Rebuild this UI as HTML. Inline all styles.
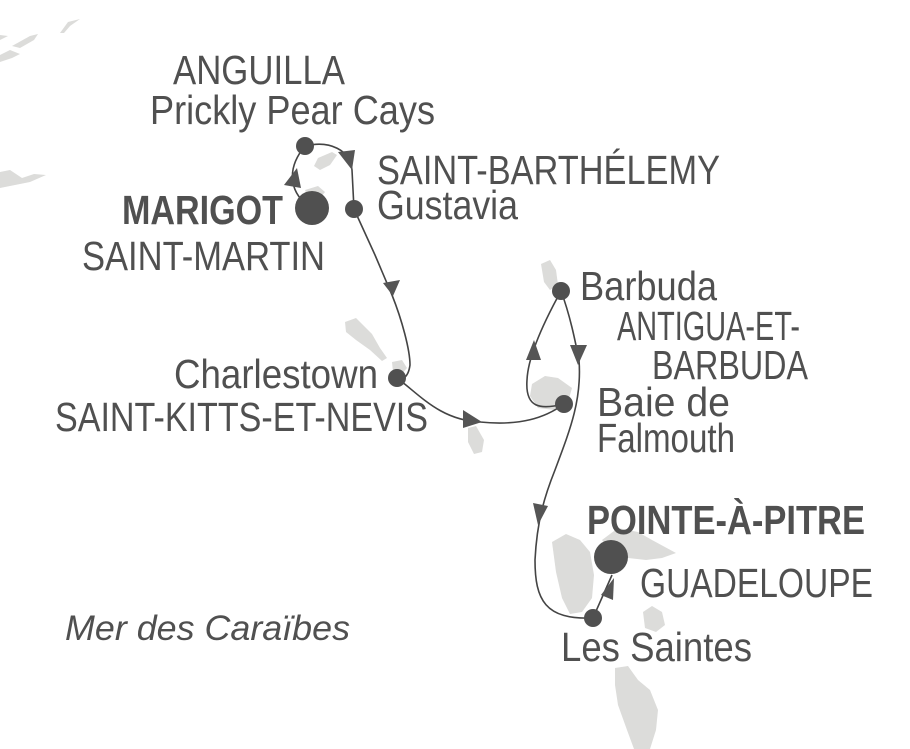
<!DOCTYPE html>
<html><head><meta charset="utf-8"><style>
html,body{margin:0;padding:0;background:#fff;}
svg{display:block;}
text{font-family:"Liberation Sans",sans-serif;fill:#505050;font-size:41px;}
.b{font-weight:bold;}
.i{font-style:italic;font-size:35px;}
</style></head><body>
<svg width="910" height="749" viewBox="0 0 910 749" xmlns="http://www.w3.org/2000/svg">
<g fill="#dcdcda">
<path d="M0 35 L8 36 L0 40Z"/>
<path d="M12 46 L30 36 L38 34 L34 40 L20 48Z"/>
<path d="M0 55 L10 50 L20 54 L12 58 L0 62Z"/>
<path d="M60 33 L68 22 L80 19 L70 26 L64 33Z"/>
<path d="M0 172 L10 170 L22 178 L34 174 L46 175 L30 182 L10 186 L0 188Z"/>
<path d="M318 158 L332 152 L337 155 L330 165 L320 170 L314 166Z"/>
<path d="M305 190 L318 186 L325 192 L320 198 L308 197Z"/>
<path d="M345 322 L356 318 L372 334 L380 348 L387 358 L382 361 L370 350 L356 340 L346 332Z"/>
<path d="M392 362 L402 360 L407 368 L400 376 L393 372Z"/>
<path d="M541 264 L550 260 L556 270 L558 285 L550 290 L544 282 Z"/>
<path d="M532 384 L545 376 L558 378 L572 388 L568 402 L555 410 L538 408 L530 396Z"/>
<path d="M468 428 L476 426 L484 440 L482 452 L474 454 L468 442Z"/>
<path d="M552 542 L566 534 L580 540 L590 552 L594 575 L592 598 L582 612 L570 614 L562 598 L556 572Z"/>
<path d="M602 540 L618 528 L638 532 L652 540 L676 553 L662 558 L646 560 L628 558 L612 555 Z"/>
<path d="M643 612 L652 606 L662 612 L665 625 L656 632 L645 628Z"/>
<path d="M615 668 L628 666 L638 680 L650 690 L658 710 L656 730 L650 749 L634 749 L627 730 L618 705 L615 685Z"/>
</g>
<g fill="none" stroke="#444" stroke-width="1.6">
<path d="M312 208 C290 195 285 170 305 146 C330 140 350 150 352 170 L354 209 L375 255 L392 295 C402 320 410 350 410 365 C408 380 400 380 397 378 C420 395 440 420 480 422 C520 426 545 418 564 404 C540 410 525 408 527 380 C528 355 545 320 561 291 C570 315 575 340 579 360 C582 400 570 430 555 470 C545 495 537 520 535 560 C535 600 545 620 593 618 L612 575"/>
</g>
<g fill="#555">
<path d="M284 185 L297 168 L301 188Z"/>
<path d="M338 152 L355 150 L352 170Z"/>
<path d="M383 283 L400 280 L393 296Z"/>
<path d="M463 410 L482 422 L463 428Z"/>
<path d="M526 360 L534 340 L541 360Z"/>
<path d="M570 345 L587 345 L578 365Z"/>
<path d="M533 503 L548 506 L538 525Z"/>
<path d="M601 595 L614 578 L613 600Z"/>
</g>
<g fill="#505050">
<circle cx="312" cy="208" r="17"/>
<circle cx="611" cy="557" r="17"/>
<circle cx="305" cy="146" r="9"/>
<circle cx="354" cy="209" r="9"/>
<circle cx="397" cy="378" r="9"/>
<circle cx="561" cy="291" r="9"/>
<circle cx="564" cy="404" r="9"/>
<circle cx="593" cy="618" r="9"/>
</g>
<text x="173" y="84" textLength="172" lengthAdjust="spacingAndGlyphs">ANGUILLA</text>
<text x="150" y="124" textLength="285" lengthAdjust="spacingAndGlyphs">Prickly Pear Cays</text>
<text class="b" x="122" y="224" textLength="161" lengthAdjust="spacingAndGlyphs">MARIGOT</text>
<text x="82" y="270" textLength="243" lengthAdjust="spacingAndGlyphs">SAINT-MARTIN</text>
<text x="377" y="184" textLength="343" lengthAdjust="spacingAndGlyphs">SAINT-BARTHÉLEMY</text>
<text x="377" y="219" textLength="141" lengthAdjust="spacingAndGlyphs">Gustavia</text>
<text x="174" y="388" textLength="204" lengthAdjust="spacingAndGlyphs">Charlestown</text>
<text x="55" y="431" textLength="373" lengthAdjust="spacingAndGlyphs">SAINT-KITTS-ET-NEVIS</text>
<text x="580" y="300" textLength="137" lengthAdjust="spacingAndGlyphs">Barbuda</text>
<text x="617" y="340" textLength="183" lengthAdjust="spacingAndGlyphs">ANTIGUA-ET-</text>
<text x="652" y="379" textLength="156" lengthAdjust="spacingAndGlyphs">BARBUDA</text>
<text x="597" y="416" textLength="133" lengthAdjust="spacingAndGlyphs">Baie de</text>
<text x="597" y="452" textLength="138" lengthAdjust="spacingAndGlyphs">Falmouth</text>
<text class="b" x="587" y="534" textLength="278" lengthAdjust="spacingAndGlyphs">POINTE-À-PITRE</text>
<text x="640" y="597" textLength="233" lengthAdjust="spacingAndGlyphs">GUADELOUPE</text>
<text x="561" y="661" textLength="191" lengthAdjust="spacingAndGlyphs">Les Saintes</text>
<text class="i" x="65" y="640" textLength="285" lengthAdjust="spacingAndGlyphs">Mer des Caraïbes</text>
</svg>
</body></html>
